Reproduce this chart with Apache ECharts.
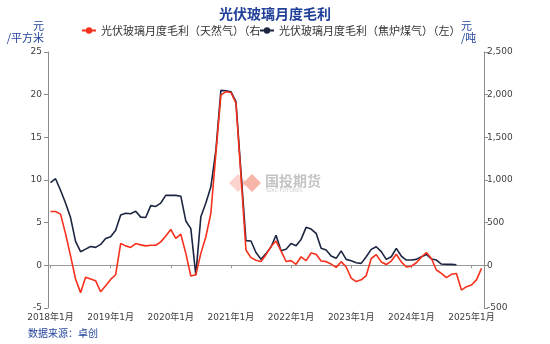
<!DOCTYPE html>
<html><head><meta charset="utf-8">
<script src="https://cdn.jsdelivr.net/npm/echarts@6/dist/echarts.min.js"></script>
<style>html,body{margin:0;padding:0;background:#fff}#c{width:550px;height:344px}</style>
</head><body><div id="c"></div>
<script>
// categories: monthly from 2018年1月 to 2025年3月
const startYear = 2018;
const monthCount = 87;
const categories = [];
for (let k = 0; k < monthCount; k++) {
  categories.push((startYear + Math.floor(k / 12)) + '年' + (k % 12 + 1) + '月');
}
// left axis (元/平方米) ticks
const leftMin = -5, leftMax = 25, leftStep = 5;
// right axis (元/吨) ticks
const rightMin = -500, rightMax = 2500, rightStep = 500;

const redName = '光伏玻璃月度毛利（天然气）（右）';
const blackName = '光伏玻璃月度毛利（焦炉煤气）（左）';

// 焦炉煤气 (left axis, 元/平方米)
const cokeGas = [
  9.7, 10.15, 8.8, 7.3, 5.6, 2.8, 1.6, 1.9, 2.2, 2.1, 2.45, 3.15,
  3.35, 4.1, 5.9, 6.1, 6.05, 6.35, 5.65, 5.6, 7.0, 6.9, 7.3, 8.2,
  8.2, 8.2, 8.1, 5.2, 4.3, -1.15, 5.7, 7.3, 9.2, 13.5, 20.5, 20.45,
  20.35, 19.2, 11.0, 2.9, 2.85, 1.5, 0.72, 1.37, 2.15, 3.52, 1.7, 1.88,
  2.55, 2.3, 3.04, 4.45, 4.25, 3.75, 2.0, 1.8, 1.1, 0.82, 1.7, 0.7,
  0.54, 0.31, 0.23, 1.01, 1.87, 2.18, 1.6, 0.7, 1.01, 1.99, 1.09, 0.62,
  0.62, 0.7, 1.01, 1.28, 0.74, 0.62, 0.15, 0.11, 0.11, 0.07,
  null, null, null, null, null
];
// 天然气 (right axis, 元/吨)
const naturalGas = [
  630, 630, 600, 372, 110, -160, -320, -140, -160, -180, -310, -240,
  -165, -110, 255, 228, 210, 255, 240, 228, 235, 235, 275, 345,
  420, 315, 365, 140, -125, -110, 140, 335, 610, 1310, 1995, 2035,
  2025, 1900, 1050, 180, 90, 60, 44, 125, 220, 285, 170, 45,
  55, 12, 100, 55, 145, 130, 50, 43, 15, -24, 43, -20,
  -150, -190, -170, -120, 80, 125, 40, 10, 50, 130, 40, -20,
  -10, 30, 95, 150, 80, -55, -95, -145, -105, -95, -290, -250,
  -230, -170, -35
];

const chart = echarts.init(document.getElementById('c'), null, {renderer: 'canvas'});
const numFont = 'DejaVu Sans, Noto Sans CJK SC, sans-serif';
const blue = '#23439b';
const axisGray = '#8c8c8c';

chart.setOption({
  animation: false,
  backgroundColor: '#fff',
  title: {
    text: '光伏玻璃月度毛利', left: 'center', top: 2,
    textStyle: {fontSize: 14, fontWeight: 'bold', color: '#1f3f99', fontFamily: 'Noto Sans CJK SC'}
  },
  legend: [
    {
      data: [redName], left: 76, top: 20, itemWidth: 14, itemHeight: 8, itemGap: 4,
      textStyle: {fontSize: 11, color: '#333', fontFamily: 'Noto Sans CJK SC',
        width: 163, overflow: 'truncate', ellipsis: ''}
    },
    {
      data: [blackName], left: 254, top: 20, itemWidth: 14, itemHeight: 8,
      textStyle: {fontSize: 11, color: '#333', fontFamily: 'Noto Sans CJK SC'}
    }
  ],
  grid: {left: 48, right: 66, top: 52, bottom: 36, containLabel: false},
  xAxis: [
    {
      type: 'category', data: categories, boundaryGap: true, position: 'top',
      axisLine: {show: true, onZero: true, onZeroAxisIndex: 0, lineStyle: {color: '#999', width: 1}},
      axisTick: {show: true, inside: true, alignWithLabel: true, interval: 11, length: 3, lineStyle: {color: '#999'}},
      axisLabel: {show: false, interval: 11},
      splitLine: {show: false}
    },
    {
      type: 'category', data: categories, boundaryGap: true, position: 'bottom',
      axisLine: {show: false, onZero: false},
      axisTick: {show: false},
      axisLabel: {interval: 11, margin: 5, fontSize: 9, color: '#404040', fontFamily: numFont},
      splitLine: {show: false}
    }
  ],
  yAxis: [
    {
      type: 'value', min: leftMin, max: leftMax, interval: leftStep, position: 'left',
      axisLine: {show: true, lineStyle: {color: axisGray}},
      axisTick: {show: true, length: 4, lineStyle: {color: axisGray}},
      axisLabel: {margin: 6, fontSize: 9, color: '#404040', fontFamily: numFont},
      splitLine: {show: false}
    },
    {
      type: 'value', min: rightMin, max: rightMax, interval: rightStep, position: 'right',
      axisLine: {show: true, onZero: false, lineStyle: {color: axisGray}},
      axisTick: {show: true, length: 4, lineStyle: {color: axisGray}},
      axisLabel: {margin: 3, fontSize: 9, color: '#404040', fontFamily: numFont,
        formatter: v => v.toLocaleString('en-US')},
      splitLine: {show: false}
    }
  ],
  series: [
    {
      name: blackName, type: 'line', xAxisIndex: 0, yAxisIndex: 0, data: cokeGas,
      symbol: 'circle', symbolSize: 7, showSymbol: false, connectNulls: false,
      itemStyle: {color: '#1c2541'}, lineStyle: {color: '#1c2541', width: 1.6}
    },
    {
      name: redName, type: 'line', xAxisIndex: 0, yAxisIndex: 1, data: naturalGas,
      symbol: 'circle', symbolSize: 7, showSymbol: false,
      itemStyle: {color: '#f5301c'}, lineStyle: {color: '#f5301c', width: 1.6}
    }
  ],
  graphic: [
    {type: 'text', style: {x: 44, y: 20, text: '元\n/平方米', align: 'right', verticalAlign: 'top',
      fill: blue, fontSize: 11, lineHeight: 12, fontFamily: 'Noto Sans CJK SC'}},
    {type: 'text', style: {x: 461, y: 20, text: '元\n/吨', align: 'left', verticalAlign: 'top',
      fill: blue, fontSize: 11, lineHeight: 12, fontFamily: 'Noto Sans CJK SC'}},
    {type: 'text', style: {x: 28, y: 328, text: '数据来源：卓创', fill: blue, fontSize: 10,
      fontFamily: 'Noto Sans CJK SC'}},
    // watermark
    {type: 'polygon', silent: true, z: -1, shape: {points: [[238, 174], [247, 183], [238, 192], [229, 183]]},
      style: {fill: '#fbd3cc'}},
    {type: 'polygon', silent: true, z: -1, shape: {points: [[252, 174], [261, 183], [252, 192], [243, 183]]},
      style: {fill: '#f7b4a8'}},
    {type: 'text', silent: true, z: -1, style: {x: 265, y: 174, text: '国投期货', fill: '#c4c4c4',
      fontSize: 14, fontWeight: 'bold', fontFamily: 'Noto Sans CJK SC'}},
    {type: 'text', silent: true, z: -1, style: {x: 266, y: 188, text: 'SDIC FUTURES', fill: '#cccccc',
      fontSize: 5, fontFamily: 'DejaVu Sans'}}
  ]
});
</script></body></html>
